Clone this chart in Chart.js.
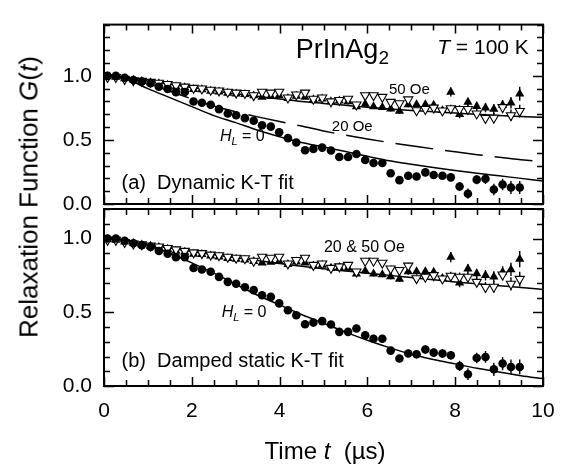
<!DOCTYPE html>
<html>
<head>
<meta charset="utf-8">
<script src="https://cdn.jsdelivr.net/npm/chart.js@4.4.1/dist/chart.umd.min.js"></script>
<style>
  html, body { margin: 0; padding: 0; background: #fff; }
  #wrap { position: relative; width: 572px; height: 472px; overflow: hidden; font-family: 'Liberation Sans', Arial, sans-serif; color: #000; }
  canvas { position: absolute; left: 0; top: 0; }
  .title { position: absolute; white-space: nowrap; }
  #ytitle { font-size: 26px; left: 29px; top: 197px; transform: translate(-50%, -50%) rotate(-90deg); }
  #xtitle { font-size: 24px; left: 325px; top: 451px; transform: translate(-50%, -50%); }
</style>
</head>
<body>
<div id="wrap">
  <canvas id="chartA" width="572" height="472"></canvas>
  <canvas id="chartB" width="572" height="472"></canvas>
  <div class="title" id="ytitle">Relaxation Function <i>G</i>(<i>t</i>)</div>
  <div class="title" id="xtitle">Time <i>t</i>&nbsp; (µs)</div>
</div>
<script>
// muon spin relaxation data (time in microseconds)
const times = [0.08, 0.27, 0.47, 0.67, 0.86, 1.06, 1.25, 1.45, 1.64, 1.84,
    2.04, 2.23, 2.43, 2.62, 2.82, 3.01, 3.21, 3.41, 3.60, 3.80,
    3.99, 4.19, 4.38, 4.58, 4.77, 4.97, 5.17, 5.36, 5.56, 5.75,
    5.95, 6.14, 6.34, 6.53, 6.73, 6.93, 7.12, 7.32, 7.51, 7.71,
    7.90, 8.10, 8.29, 8.49, 8.69, 8.88, 9.08, 9.27, 9.47];

// H_L = 0 (filled circles)
const zeroField = [1.0, 1.0, 0.985, 0.968, 0.955, 0.943, 0.915, 0.897, 0.873, 0.874,
    0.80, 0.79, 0.775, 0.74, 0.706, 0.693, 0.67, 0.65, 0.615, 0.604,
    0.56, 0.514, 0.48, 0.419, 0.43, 0.44, 0.417, 0.367, 0.367, 0.39,
    0.344, 0.32, 0.32, 0.24, 0.186, 0.22, 0.215, 0.247, 0.226, 0.22,
    0.208, 0.136, 0.08, 0.19, 0.197, 0.113, 0.152, 0.129, 0.129];
const zeroErr = [0.006, 0.006, 0.006, 0.006, 0.006, 0.006, 0.006, 0.006, 0.006, 0.006,
    0.01, 0.01, 0.01, 0.01, 0.01, 0.01, 0.01, 0.01, 0.012, 0.012,
    0.015, 0.015, 0.015, 0.015, 0.015, 0.018, 0.018, 0.018, 0.02, 0.02,
    0.02, 0.022, 0.022, 0.025, 0.025, 0.025, 0.028, 0.028, 0.028, 0.03,
    0.03, 0.035, 0.04, 0.035, 0.04, 0.045, 0.045, 0.05, 0.05];

// H_L = 50 Oe (filled up triangles)
const field50 = [0.995, 0.99, 0.978, 0.968, 0.958, 0.948, 0.94, 0.928, 0.915, 0.908,
    0.895, 0.893, 0.882, 0.876, 0.865, 0.86, 0.856, 0.845, 0.835, 0.84,
    0.845, 0.825, 0.842, 0.835, 0.815, 0.82, 0.8, 0.805, 0.8, 0.76,
    0.78, 0.76, 0.755, 0.742, 0.725, 0.775, 0.776, 0.776, 0.772, 0.73,
    0.874, 0.70, 0.795, 0.762, 0.751, 0.74, 0.772, 0.79, 0.86];
const err50 = [0.006, 0.006, 0.006, 0.006, 0.006, 0.006, 0.006, 0.006, 0.006, 0.006,
    0.008, 0.008, 0.008, 0.008, 0.008, 0.01, 0.01, 0.01, 0.01, 0.01,
    0.012, 0.012, 0.012, 0.012, 0.012, 0.015, 0.015, 0.015, 0.015, 0.015,
    0.018, 0.018, 0.018, 0.02, 0.02, 0.02, 0.022, 0.022, 0.025, 0.025,
    0.035, 0.03, 0.03, 0.032, 0.035, 0.038, 0.04, 0.045, 0.055];

// H_L = 20 Oe (open down triangles)
const field20 = [0.99, 0.99, 0.975, 0.965, 0.96, 0.952, 0.945, 0.935, 0.925, 0.915,
    0.905, 0.9, 0.89, 0.885, 0.875, 0.868, 0.865, 0.848, 0.875, 0.868,
    0.875, 0.83, 0.853, 0.868, 0.82, 0.83, 0.8, 0.81, 0.82, 0.775,
    0.848, 0.848, 0.835, 0.796, 0.785, 0.815, 0.73, 0.74, 0.751, 0.728,
    0.746, 0.74, 0.74, 0.705, 0.67, 0.672, 0.755, 0.692, 0.725];
const err20 = [0.006, 0.006, 0.006, 0.006, 0.006, 0.006, 0.006, 0.006, 0.006, 0.006,
    0.008, 0.008, 0.008, 0.008, 0.008, 0.01, 0.01, 0.01, 0.01, 0.01,
    0.012, 0.012, 0.012, 0.012, 0.012, 0.015, 0.015, 0.015, 0.015, 0.015,
    0.018, 0.018, 0.018, 0.02, 0.02, 0.02, 0.022, 0.022, 0.025, 0.025,
    0.028, 0.03, 0.03, 0.032, 0.035, 0.038, 0.04, 0.045, 0.05];

// fit curves, sampled off the figure every 0.5 us
const fitTimes = [0, 0.5, 1, 1.5, 2, 2.5, 3, 3.5, 4, 4.5, 5,
    5.5, 6, 6.5, 7, 7.5, 8, 8.5, 9, 9.5, 10];
const dynFitZero = [1.0, 0.975, 0.9, 0.83, 0.76, 0.69, 0.635, 0.575, 0.525, 0.48, 0.445,
    0.41, 0.372, 0.337, 0.31, 0.285, 0.262, 0.24, 0.22, 0.2, 0.18];
const dynFit20 = [1.0, 0.985, 0.94, 0.88, 0.82, 0.765, 0.72, 0.68, 0.643, 0.608, 0.57,
    0.537, 0.507, 0.48, 0.455, 0.43, 0.407, 0.385, 0.364, 0.345, 0.33];
const dynFit50 = [1.0, 0.99, 0.96, 0.935, 0.91, 0.885, 0.86, 0.84, 0.82, 0.8, 0.785,
    0.77, 0.755, 0.742, 0.73, 0.72, 0.71, 0.7, 0.69, 0.683, 0.676];
const statFitZero = [1.0, 0.99, 0.955, 0.9, 0.835, 0.765, 0.69, 0.615, 0.55, 0.485, 0.425,
    0.365, 0.31, 0.26, 0.215, 0.18, 0.15, 0.12, 0.095, 0.07, 0.05];
const statFit2050 = [1.0, 0.985, 0.958, 0.935, 0.912, 0.89, 0.87, 0.85, 0.83, 0.812, 0.795,
    0.78, 0.765, 0.75, 0.735, 0.72, 0.705, 0.693, 0.68, 0.667, 0.655];

const xTickValues = [0, 2, 4, 6, 8, 10];
const yTickValues = [0, 0.5, 1.0];

const FONT = "'Liberation Sans', Arial, sans-serif";

function points(xs, ys) {
    return xs.map((t, i) => ({ x: t, y: ys[i] }));
}

// error bars, drawn right before each dataset so layering follows dataset order
const errorBars = {
    id: "errorBars",
    beforeDatasetDraw(chart, args) {
        const ds = chart.data.datasets[args.index];
        if (!ds.errors) return;
        const { ctx, chartArea: a, scales: { x, y } } = chart;
        ctx.save();
        ctx.beginPath();
        ctx.rect(a.left, a.top, a.width, a.height);
        ctx.clip();
        ctx.strokeStyle = "#000";
        ctx.lineWidth = 1.4;
        ctx.beginPath();
        ds.data.forEach((p, i) => {
            const px = x.getPixelForValue(p.x);
            ctx.moveTo(px, y.getPixelForValue(p.y - ds.errors[i]));
            ctx.lineTo(px, y.getPixelForValue(p.y + ds.errors[i]));
        });
        ctx.stroke();
        ctx.restore();
    }
};

// box frame with inward ticks on all four sides
function frameTicks(xMinor, xMajor, yMinor, yMajor) {
    const isMajor = (v, step) => Math.abs(v / step - Math.round(v / step)) < 1e-6;
    return {
        id: "frameTicks",
        afterDraw(chart) {
            const { ctx, chartArea: a, scales: { x, y } } = chart;
            ctx.save();
            ctx.strokeStyle = "#000";
            ctx.lineWidth = 1.5;
            ctx.beginPath();
            for (let i = 0; x.min + i * xMinor <= x.max + 1e-9; i++) {
                const v = x.min + i * xMinor;
                const px = Math.round(x.getPixelForValue(v)) + 0.5;
                const len = isMajor(v, xMajor) ? 9 : 6;
                ctx.moveTo(px, a.bottom); ctx.lineTo(px, a.bottom - len);
                ctx.moveTo(px, a.top); ctx.lineTo(px, a.top + len);
            }
            for (let i = 0; y.min + i * yMinor <= y.max + 1e-9; i++) {
                const v = y.min + i * yMinor;
                const py = Math.round(y.getPixelForValue(v)) + 0.5;
                const len = isMajor(v, yMajor) ? 10 : 6;
                ctx.moveTo(a.left, py); ctx.lineTo(a.left + len, py);
                ctx.moveTo(a.right, py); ctx.lineTo(a.right - len, py);
            }
            ctx.stroke();
            ctx.lineWidth = 2;
            ctx.strokeRect(a.left, a.top, a.width, a.height);
            ctx.restore();
        }
    };
}

// in-plot labels placed in data coordinates
function labels(items) {
    return {
        id: "labels",
        afterDraw(chart) {
            const { ctx, scales: { x, y } } = chart;
            ctx.save();
            ctx.fillStyle = "#000";
            ctx.textAlign = "left";
            ctx.textBaseline = "alphabetic";
            items.forEach(item => {
                let px = x.getPixelForValue(item.t);
                const py = y.getPixelForValue(item.g);
                item.parts.forEach(p => {
                    ctx.font = (p.italic ? "italic " : "") + p.size + "px " + FONT;
                    ctx.fillText(p.text, px, py + (p.shift || 0));
                    px += ctx.measureText(p.text).width;
                });
            });
            ctx.restore();
        }
    };
}

function markerSets() {
    return [
        {
            label: "H_L = 0",
            data: points(times, zeroField),
            errors: zeroErr,
            pointStyle: "circle",
            pointRadius: 4.3,
            backgroundColor: "#000",
            borderColor: "#000",
            borderWidth: 0,
            order: 1
        },
        {
            label: "20 Oe",
            data: points(times, field20),
            errors: err20,
            pointStyle: "triangle",
            rotation: 180,
            pointRadius: 5.3,
            backgroundColor: "#fff",
            borderColor: "#000",
            borderWidth: 1.1,
            order: 2
        },
        {
            label: "50 Oe",
            data: points(times, field50),
            errors: err50,
            pointStyle: "triangle",
            pointRadius: 5.3,
            backgroundColor: "#000",
            borderColor: "#000",
            borderWidth: 0,
            order: 3
        }
    ];
}

function fitSet(label, values, dash) {
    return {
        label: label,
        data: points(fitTimes, values),
        showLine: true,
        pointRadius: 0,
        borderColor: "#000",
        borderWidth: 1.5,
        borderDash: dash || [],
        cubicInterpolationMode: "monotone",
        fill: false,
        order: 5
    };
}

function yAxis(max) {
    return {
        type: "linear",
        min: 0,
        max: max,
        grid: { display: false, drawTicks: false },
        border: { display: false },
        afterBuildTicks: scale => { scale.ticks = yTickValues.map(v => ({ value: v })); },
        afterFit: scale => { scale.width = 104; },
        ticks: {
            padding: 12,
            color: "#000",
            font: { family: FONT, size: 21 },
            callback: v => v.toFixed(1)
        }
    };
}

function renderCharts() {
    Chart.defaults.font.family = FONT;
    Chart.defaults.color = "#000";

    const commonPlugins = {
        legend: { display: false },
        tooltip: { enabled: false }
    };

    new Chart(document.getElementById("chartA"), {
        type: "scatter",
        data: {
            datasets: [
                ...markerSets(),
                fitSet("Dynamic K-T, H_L = 0", dynFitZero),
                fitSet("Dynamic K-T, 20 Oe", dynFit20, [38, 12]),
                fitSet("Dynamic K-T, 50 Oe", dynFit50)
            ]
        },
        options: {
            responsive: false,
            animation: false,
            devicePixelRatio: 1,
            layout: { padding: { top: 3, right: 29, bottom: 268, left: 0 } },
            scales: {
                x: { type: "linear", min: 0, max: 10, display: false },
                y: yAxis(1.4)
            },
            plugins: commonPlugins
        },
        plugins: [
            errorBars,
            frameTicks(0.5, 2, 0.1, 0.5),
            labels([
                { t: 4.37, g: 1.139, parts: [{ text: "PrInAg", size: 27 }, { text: "2", size: 19, shift: 6 }] },
                { t: 7.59, g: 1.174, parts: [{ text: "T", size: 21, italic: true }, { text: " = 100 K", size: 21 }] },
                { t: 6.49, g: 0.861, parts: [{ text: "50 Oe", size: 15 }] },
                { t: 5.19, g: 0.573, parts: [{ text: "20 Oe", size: 15 }] },
                { t: 2.64, g: 0.493, parts: [{ text: "H", size: 16, italic: true }, { text: "L", size: 11, italic: true, shift: 4 }, { text: " = 0", size: 16 }] },
                { t: 0.40, g: 0.12, parts: [{ text: "(a)  Dynamic K-T fit", size: 20 }] }
            ])
        ]
    });

    new Chart(document.getElementById("chartB"), {
        type: "scatter",
        data: {
            datasets: [
                ...markerSets(),
                fitSet("Damped static K-T, H_L = 0", statFitZero),
                fitSet("Damped static K-T, 20 & 50 Oe", statFit2050)
            ]
        },
        options: {
            responsive: false,
            animation: false,
            devicePixelRatio: 1,
            layout: { padding: { top: 209, right: 29, bottom: 46, left: 0 } },
            scales: {
                x: {
                    type: "linear",
                    min: 0,
                    max: 10,
                    grid: { display: false, drawTicks: false },
                    border: { display: false },
                    afterBuildTicks: scale => { scale.ticks = xTickValues.map(v => ({ value: v })); },
                    afterFit: scale => { scale.height = 40; },
                    ticks: {
                        padding: 13,
                        maxRotation: 0,
                        autoSkip: false,
                        color: "#000",
                        font: { family: FONT, size: 21 },
                        callback: v => String(v)
                    }
                },
                y: yAxis(1.2)
            },
            plugins: commonPlugins
        },
        plugins: [
            errorBars,
            frameTicks(0.5, 2, 0.1, 0.5),
            labels([
                { t: 5.01, g: 0.909, parts: [{ text: "20 & 50 Oe", size: 16 }] },
                { t: 2.68, g: 0.468, parts: [{ text: "H", size: 16, italic: true }, { text: "L", size: 11, italic: true, shift: 4 }, { text: " = 0", size: 16 }] },
                { t: 0.40, g: 0.129, parts: [{ text: "(b)  Damped static K-T fit", size: 20 }] }
            ])
        ]
    });
}

renderCharts();
</script>
</body>
</html>
